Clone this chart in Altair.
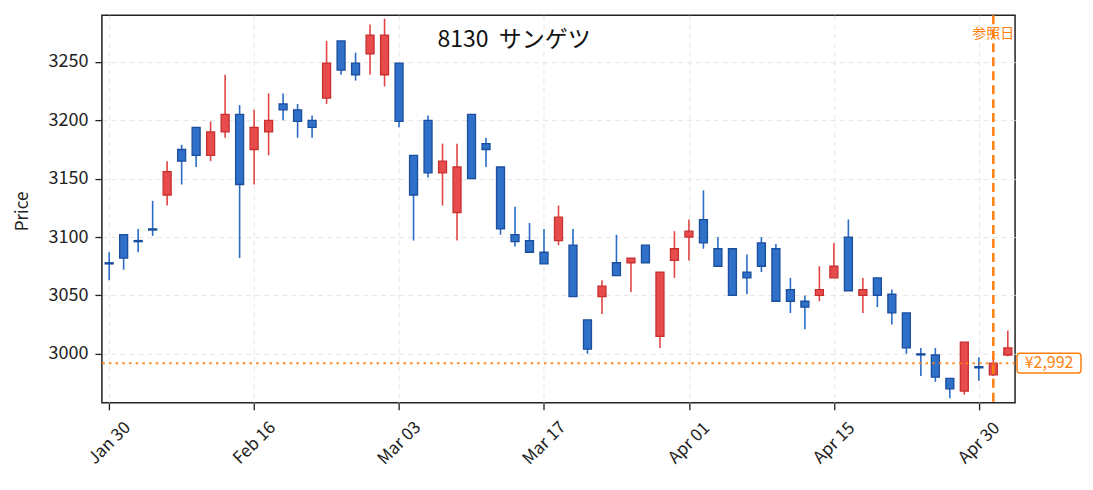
import altair as alt
import pandas as pd

DATES = ["Jan 30", "Feb 02", "Feb 03", "Feb 04", "Feb 05", "Feb 06", "Feb 09", "Feb 10", "Feb 12", "Feb 13",
         "Feb 16", "Feb 17", "Feb 18", "Feb 19", "Feb 20", "Feb 24", "Feb 25", "Feb 26", "Feb 27", "Mar 02",
         "Mar 03", "Mar 04", "Mar 05", "Mar 06", "Mar 09", "Mar 10", "Mar 11", "Mar 12", "Mar 13", "Mar 16",
         "Mar 17", "Mar 18", "Mar 19", "Mar 23", "Mar 24", "Mar 25", "Mar 26", "Mar 27", "Mar 30", "Mar 31",
         "Apr 01", "Apr 02", "Apr 03", "Apr 06", "Apr 07", "Apr 08", "Apr 09", "Apr 10", "Apr 13", "Apr 14",
         "Apr 15", "Apr 16", "Apr 17", "Apr 20", "Apr 21", "Apr 22", "Apr 23", "Apr 24", "Apr 27", "Apr 28",
         "Apr 30", "May 01", "May 07"]

OPEN = [3078, 3102, 3097, 3107, 3136, 3175, 3194, 3170, 3190, 3205,
        3175, 3190, 3214, 3209, 3200, 3219, 3268, 3249, 3257, 3239,
        3249, 3170, 3200, 3155, 3121, 3205, 3180, 3160, 3102, 3097,
        3087, 3097, 3093, 3029, 3049, 3078, 3078, 3093, 3015, 3080,
        3100, 3115, 3090, 3090, 3070, 3095, 3090, 3055, 3045, 3050,
        3065, 3100, 3050, 3065, 3051, 3035, 3000, 2999, 2979, 2968,
        2989, 2982, 2999]
HIGH = [3087, 3102, 3107, 3131, 3165, 3179, 3194, 3199, 3239, 3213,
        3209, 3223, 3223, 3214, 3204, 3268, 3268, 3258, 3282, 3287,
        3249, 3170, 3204, 3180, 3180, 3205, 3185, 3160, 3126, 3112,
        3107, 3127, 3107, 3029, 3063, 3102, 3082, 3093, 3070, 3105,
        3115, 3140, 3100, 3090, 3085, 3100, 3094, 3065, 3050, 3075,
        3095, 3115, 3065, 3065, 3055, 3035, 3005, 3005, 2979, 3010,
        2997, 2998, 3020]
LOW = [3063, 3072, 3087, 3101, 3127, 3145, 3160, 3165, 3185, 3082,
       3145, 3170, 3200, 3185, 3185, 3214, 3239, 3234, 3239, 3229,
       3194, 3097, 3151, 3127, 3097, 3150, 3160, 3102, 3092, 3087,
       3077, 3093, 3049, 3000, 3034, 3067, 3053, 3078, 3005, 3065,
       3080, 3090, 3075, 3050, 3051, 3070, 3045, 3035, 3021, 3045,
       3065, 3054, 3035, 3040, 3025, 3000, 2981, 2976, 2962, 2965,
       2977, 2981, 2998]
CLOSE = [3077, 3082, 3096, 3106, 3156, 3165, 3170, 3190, 3205, 3145,
         3194, 3200, 3209, 3199, 3194, 3249, 3243, 3239, 3273, 3273,
         3199, 3136, 3155, 3165, 3160, 3150, 3175, 3107, 3096, 3087,
         3077, 3117, 3049, 3004, 3058, 3067, 3082, 3078, 3070, 3090,
         3105, 3095, 3075, 3050, 3065, 3075, 3045, 3045, 3040, 3055,
         3075, 3054, 3055, 3050, 3035, 3005, 2999, 2980, 2970, 3010,
         2988, 2992, 3005]

TITLE = "8130\u00a0\u00a0サンゲツ"
Y_TITLE = "Price"
REF_LABEL = "参照日"
REF_IDX = 61
REF_PRICE = 2992
TICK_VALUES = list(range(0, 61, 10))
TICK_LABELS = [DATES[i] for i in TICK_VALUES]
Y_TICKS = [3000, 3050, 3100, 3150, 3200, 3250]

FONT = "Noto Sans CJK JP"
ORANGE = "#ff7f0e"
UP_FILL, UP_STROKE, UP_WICK = "#e84b4b", "#c83030", "#e34444"
DN_FILL, DN_STROKE, DN_WICK = "#2f70c8", "#1c4e9e", "#2a6cc6"

df = pd.DataFrame({
    "idx": list(range(len(OPEN))),
    "date": DATES,
    "open": OPEN, "high": HIGH, "low": LOW, "close": CLOSE,
})
df["dir"] = ["up" if c >= o else "down" for o, c in zip(OPEN, CLOSE)]

label_js = "[" + ",".join("'" + s + "'" for s in TICK_LABELS) + "]"

x_scale = alt.Scale(domain=[-0.5, 62.5], nice=False, zero=False, padding=0)
x_enc = alt.X(
    "idx:Q",
    scale=x_scale,
    axis=alt.Axis(
        values=TICK_VALUES, labelExpr=label_js + "[round(datum.value / 10)]",
        title=None, labelAngle=315, labelAlign="center", labelBaseline="middle",
        labelPadding=33, labelFontSize=17, labelFont=FONT, labelColor="#222",
        tickSize=7, tickWidth=1.3, tickColor="#222", domain=False,
        grid=True, gridDash=[5, 4], gridColor="#e6e6e6", gridWidth=1,
        labelOverlap=False,
    ),
)
y_scale = alt.Scale(domain=[2958, 3290], nice=False, zero=False, padding=0)
y_axis = alt.Axis(
    values=Y_TICKS, format="d", title=Y_TITLE, titleFont=FONT, titleFontSize=17, titleFontWeight="normal",
    titleColor="#222", titleX=-79, titleY=196, titleAngle=270, titleAlign="center",
    titleBaseline="middle", labelFont=FONT, labelFontSize=18, labelColor="#222", labelPadding=7,
    tickSize=7, tickWidth=1.3, tickColor="#222", domain=False,
    grid=True, gridDash=[5, 4], gridColor="#e6e6e6", gridWidth=1,
)

base = alt.Chart(df)

wicks = base.mark_rule(strokeWidth=1.6).encode(
    x=x_enc,
    y=alt.Y("low:Q", scale=y_scale, axis=y_axis),
    y2="high:Q",
    color=alt.Color("dir:N", scale=alt.Scale(domain=["up", "down"], range=[UP_WICK, DN_WICK]), legend=None),
)

bodies = base.mark_bar(size=8, strokeWidth=1.3).encode(
    x="idx:Q",
    y="open:Q",
    y2="close:Q",
    fill=alt.Fill("dir:N", scale=alt.Scale(domain=["up", "down"], range=[UP_FILL, DN_FILL]), legend=None),
    stroke=alt.Stroke("dir:N", scale=alt.Scale(domain=["up", "down"], range=[UP_STROKE, DN_STROKE]), legend=None),
)

ann = pd.DataFrame({"price": [REF_PRICE], "idx": [REF_IDX]})
hline = alt.Chart(ann).mark_rule(color=ORANGE, strokeWidth=2, strokeDash=[2.5, 4.2], opacity=0.9).encode(
    y="price:Q"
)
vline = alt.Chart(ann).mark_rule(color=ORANGE, strokeWidth=2.5, strokeDash=[9, 5]).encode(
    x="idx:Q"
)

box = alt.Chart(ann).mark_rect(fill="white", stroke=ORANGE, strokeWidth=1.5, cornerRadius=3).encode(
    x=alt.value(916), x2=alt.value(980),
    y=alt.datum(REF_PRICE + 8.5), y2=alt.datum(REF_PRICE - 8.5),
)
box_text = alt.Chart(pd.DataFrame({"t": [f"¥{REF_PRICE:,}"]})).mark_text(
    font=FONT, fontSize=16, color=ORANGE, align="center", baseline="middle"
).encode(x=alt.value(948), y=alt.datum(REF_PRICE), text="t:N")

ref_text = alt.Chart(pd.DataFrame({"t": [REF_LABEL]})).mark_text(
    font=FONT, fontSize=14, color=ORANGE, align="center", baseline="middle"
).encode(x=alt.datum(REF_IDX), y=alt.value(19), text="t:N")

title_text = alt.Chart(pd.DataFrame({"t": [TITLE]})).mark_text(
    font=FONT, fontSize=23, color="#111", align="center", baseline="middle"
).encode(x=alt.value(412.5), y=alt.value(25), text="t:N")

chart = alt.layer(wicks, bodies, hline, vline, box, box_text, ref_text, title_text).properties(
    width=914, height=388,
    background="white",
    autosize=alt.AutoSizeParams(type="none"),
    padding={"left": 94, "top": 7, "right": 70, "bottom": 70},
).configure_view(stroke="#222", strokeWidth=1.5, strokeOpacity=1)

chart.save("out.html", embed_options={"renderer": "svg", "actions": False})
